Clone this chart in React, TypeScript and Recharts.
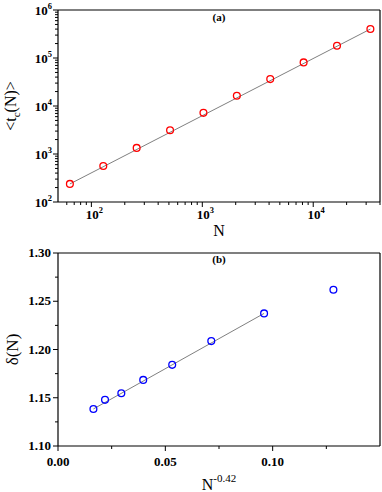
import React from 'react'
import {
  ComposedChart,
  Line,
  Scatter,
  XAxis,
  YAxis,
  ReferenceLine,
  Label,
} from 'recharts'

// panel (a): mean crossing time vs system size (log-log)
const sizesN = [64, 128, 256, 512, 1024, 2048, 4096, 8192, 16384, 32768]
const meanTc = [238, 564, 1340, 3130, 7200, 16300, 36300, 80900, 180000, 401000]
const fitN = [64, 32768]
const fitTc = [238, 401000]

const nTicks = [
  60, 70, 80, 90, 100, 200, 300, 400, 500, 600, 700, 800, 900, 1000, 2000, 3000,
  4000, 5000, 6000, 7000, 8000, 9000, 10000, 20000, 30000, 40000,
]
const nMajor = [100, 1000, 10000]
const tcTicks = [
  100, 200, 300, 400, 500, 600, 700, 800, 900, 1000, 2000, 3000, 4000, 5000, 6000,
  7000, 8000, 9000, 10000, 20000, 30000, 40000, 50000, 60000, 70000, 80000, 90000,
  100000, 200000, 300000, 400000, 500000, 600000, 700000, 800000, 900000, 1000000,
]
const tcMajor = [100, 1000, 10000, 100000, 1000000]

// panel (b): delta vs N^-0.42
const scaledN = [0.0165, 0.0219, 0.0295, 0.0397, 0.0532, 0.0714, 0.096, 0.1283]
const deltaN = [1.1384, 1.1478, 1.1547, 1.1685, 1.1841, 1.2087, 1.2374, 1.2619]
const fitX = [0.0165, 0.096]
const fitDelta = [1.1384, 1.2374]

const xTicksB = [0, 0.025, 0.05, 0.075, 0.1, 0.125]
const xMajorB = ['0.00', '0.05', '0.10']
const yTicksB = [1.1, 1.125, 1.15, 1.175, 1.2, 1.225, 1.25, 1.275, 1.3]
const yMajorB = ['1.10', '1.15', '1.20', '1.25', '1.30']

const pointsA = sizesN.map((n, i) => ({ x: n, y: meanTc[i] }))
const lineA = fitN.map((n, i) => ({ x: n, y: fitTc[i] }))
const pointsB = scaledN.map((v, i) => ({ x: v, y: deltaN[i] }))
const lineB = fitX.map((v, i) => ({ x: v, y: fitDelta[i] }))

const SERIF = '"Liberation Serif", "Times New Roman", serif'
const W = 382

function Sup({ base, exp, size = 13 }: { base: string; exp: string; size?: number }) {
  return (
    <>
      <tspan>{base}</tspan>
      <tspan dy={-6} fontSize={size * 0.65}>
        {exp}
      </tspan>
    </>
  )
}

function logBottomTick(props: any) {
  const { x, y, payload } = props
  const v = payload.value
  const major = nMajor.includes(v)
  return (
    <g>
      <line x1={x} x2={x} y1={y} y2={y + (major ? 5 : 3)} stroke="#000" strokeWidth={1} />
      {major && (
        <text x={x + 3} y={y + 17} textAnchor="middle" fontFamily={SERIF} fontWeight="bold" fontSize={13} fill="#000">
          <Sup base="10" exp={String(Math.round(Math.log10(v)))} />
        </text>
      )}
    </g>
  )
}

function logLeftTick(props: any) {
  const { x, y, payload } = props
  const v = payload.value
  const major = tcMajor.includes(v)
  return (
    <g>
      <line x1={x - (major ? 5 : 3)} x2={x} y1={y} y2={y} stroke="#000" strokeWidth={1} />
      {major && (
        <text x={x - 6} y={y + 5} textAnchor="end" fontFamily={SERIF} fontWeight="bold" fontSize={13} fill="#000">
          <Sup base="10" exp={String(Math.round(Math.log10(v)))} />
        </text>
      )}
    </g>
  )
}

function linBottomTick(props: any) {
  const { x, y, payload } = props
  const txt = payload.value.toFixed(2)
  const major = xMajorB.includes(txt)
  return (
    <g>
      <line x1={x} x2={x} y1={y} y2={y + (major ? 5 : 3)} stroke="#000" strokeWidth={1} />
      {major && (
        <text x={x} y={y + 20} textAnchor="middle" fontFamily={SERIF} fontWeight="bold" fontSize={13} fill="#000">
          {txt}
        </text>
      )}
    </g>
  )
}

function linLeftTick(props: any) {
  const { x, y, payload } = props
  const txt = payload.value.toFixed(2)
  const major = yMajorB.includes(txt)
  return (
    <g>
      <line x1={x - (major ? 5 : 3)} x2={x} y1={y} y2={y} stroke="#000" strokeWidth={1} />
      {major && (
        <text x={x - 7} y={y + 4} textAnchor="end" fontFamily={SERIF} fontWeight="bold" fontSize={13} fill="#000">
          {txt}
        </text>
      )}
    </g>
  )
}

const openCircle = (color: string) => (p: any) =>
  <circle cx={p.cx} cy={p.cy} r={3.4} fill="none" stroke={color} strokeWidth={1.3} />

function TcTitle({ viewBox }: any) {
  const cx = 16
  const cy = viewBox.y + viewBox.height / 2
  return (
    <text x={cx} y={cy} transform={`rotate(-90, ${cx}, ${cy})`} textAnchor="middle" fontFamily={SERIF} fontSize={16} fill="#000">
      <tspan>{'<t'}</tspan>
      <tspan dy={4} fontSize={11}>c</tspan>
      <tspan dy={-4}>{'(N)>'}</tspan>
    </text>
  )
}

function DeltaTitle({ viewBox }: any) {
  const cx = 18
  const cy = viewBox.y + viewBox.height / 2
  return (
    <text x={cx} y={cy} transform={`rotate(-90, ${cx}, ${cy})`} textAnchor="middle" fontFamily={SERIF} fontSize={17} fill="#000">
      δ(N)
    </text>
  )
}

function NTitle({ viewBox }: any) {
  return (
    <text x={viewBox.x + viewBox.width / 2} y={viewBox.y + 34} textAnchor="middle" fontFamily={SERIF} fontSize={16} fill="#000">
      N
    </text>
  )
}

function NPowTitle({ viewBox }: any) {
  return (
    <text x={viewBox.x + viewBox.width / 2} y={viewBox.y + 44} textAnchor="middle" fontFamily={SERIF} fontSize={16} fill="#000">
      <tspan>N</tspan>
      <tspan dy={-8} fontSize={11}>-0.42</tspan>
    </text>
  )
}

const panelLabel = (text: string) => ({
  value: text,
  position: 'bottom' as const,
  offset: 3,
  fontFamily: SERIF,
  fontWeight: 'bold',
  fontSize: 11,
  fill: '#000',
})

export default function App() {
  return (
    <div style={{ position: 'absolute', left: 0, top: 0, width: W, height: 492, background: '#fff' }}>
      <ComposedChart width={W} height={240} margin={{ top: 10, right: 2, bottom: 0, left: 0 }}>
        <XAxis
          dataKey="x"
          type="number"
          scale="log"
          domain={[50, 40000]}
          allowDataOverflow
          ticks={nTicks}
          interval={0}
          tick={logBottomTick}
          tickSize={0}
          tickMargin={0}
          tickLine={false}
          axisLine={{ stroke: '#000', strokeWidth: 1.2 }}
          height={38}
        >
          <Label content={NTitle} />
        </XAxis>
        <YAxis
          dataKey="y"
          type="number"
          scale="log"
          domain={[100, 1000000]}
          allowDataOverflow
          ticks={tcTicks}
          interval={0}
          tick={logLeftTick}
          tickSize={0}
          tickMargin={0}
          tickLine={false}
          axisLine={{ stroke: '#000', strokeWidth: 1.2 }}
          width={58}
        >
          <Label content={TcTitle} />
        </YAxis>
        <ReferenceLine y={1000000} stroke="#000" strokeWidth={1.2} label={panelLabel('(a)')} />
        <ReferenceLine x={40000} stroke="#000" strokeWidth={1.2} />
        <Line data={lineA} dataKey="y" type="linear" stroke="#808080" strokeWidth={1} dot={false} isAnimationActive={false} />
        <Scatter data={pointsA} dataKey="y" shape={openCircle('#ff0000')} isAnimationActive={false} />
      </ComposedChart>
      <ComposedChart width={W} height={252} margin={{ top: 13, right: 2, bottom: 0, left: 0 }}>
        <XAxis
          dataKey="x"
          type="number"
          domain={[0, 0.15]}
          allowDataOverflow
          ticks={xTicksB}
          interval={0}
          tick={linBottomTick}
          tickSize={0}
          tickMargin={0}
          tickLine={false}
          axisLine={{ stroke: '#000', strokeWidth: 1.2 }}
          height={46}
        >
          <Label content={NPowTitle} />
        </XAxis>
        <YAxis
          dataKey="y"
          type="number"
          domain={[1.1, 1.3]}
          allowDataOverflow
          ticks={yTicksB}
          interval={0}
          tick={linLeftTick}
          tickSize={0}
          tickMargin={0}
          tickLine={false}
          axisLine={{ stroke: '#000', strokeWidth: 1.2 }}
          width={58}
        >
          <Label content={DeltaTitle} />
        </YAxis>
        <ReferenceLine y={1.3} stroke="#000" strokeWidth={1.2} label={{ ...panelLabel('(b)'), offset: 2 }} />
        <ReferenceLine x={0.15} stroke="#000" strokeWidth={1.2} />
        <Line data={lineB} dataKey="y" type="linear" stroke="#808080" strokeWidth={1} dot={false} isAnimationActive={false} />
        <Scatter data={pointsB} dataKey="y" shape={openCircle('#0000ff')} isAnimationActive={false} />
      </ComposedChart>
    </div>
  )
}
